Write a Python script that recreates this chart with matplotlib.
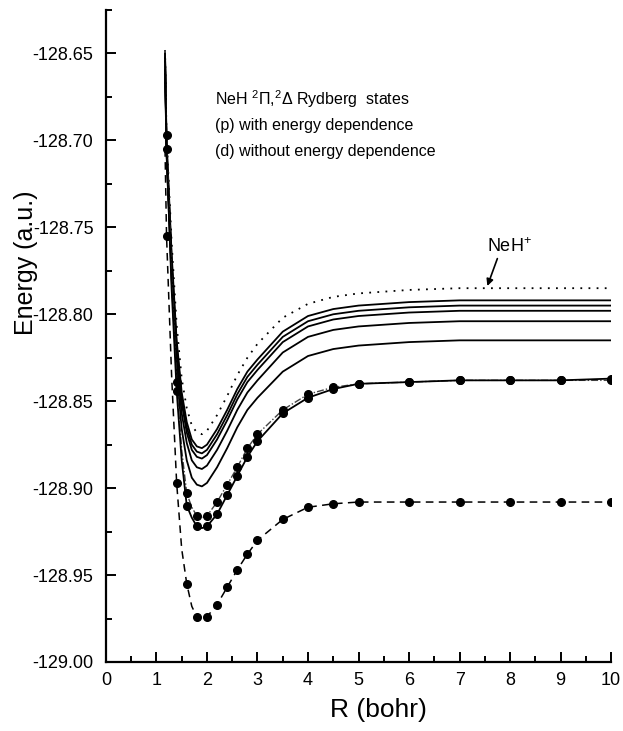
import matplotlib
matplotlib.use("Agg")
import matplotlib.pyplot as plt
from matplotlib.ticker import MultipleLocator, FormatStrFormatter

plt.rcParams['font.family'] = ['Liberation Sans', 'DejaVu Sans']
plt.rcParams['mathtext.fontset'] = 'custom'
plt.rcParams['mathtext.rm'] = 'Liberation Sans'
plt.rcParams['mathtext.it'] = 'Liberation Sans:italic'

# bond length grid (bohr)
R = [1.17, 1.2, 1.3, 1.4, 1.5, 1.6, 1.7, 1.8, 1.9, 2.0, 2.2, 2.4, 2.6, 2.8,
     3.0, 3.5, 4.0, 4.5, 5.0, 6.0, 7.0, 8.0, 9.0, 10.0]

# NeH+ ion (dotted)
ion = [-128.648, -128.697, -128.758, -128.806, -128.837, -128.854, -128.864,
       -128.868, -128.869, -128.867, -128.858, -128.847, -128.835, -128.825,
       -128.817, -128.802, -128.794, -128.790, -128.788, -128.786, -128.785,
       -128.785, -128.785, -128.785]

# Rydberg states (solid)
s1 = [-128.650, -128.700, -128.765, -128.815, -128.845, -128.862, -128.872,
      -128.876, -128.877, -128.875, -128.866, -128.855, -128.843, -128.833,
      -128.826, -128.810, -128.801, -128.797, -128.795, -128.793, -128.792,
      -128.792, -128.792, -128.792]
s2 = [-128.652, -128.702, -128.768, -128.818, -128.848, -128.865, -128.875,
      -128.879, -128.880, -128.878, -128.869, -128.858, -128.846, -128.836,
      -128.829, -128.813, -128.804, -128.800, -128.798, -128.796, -128.795,
      -128.795, -128.795, -128.795]
s3 = [-128.654, -128.704, -128.771, -128.821, -128.851, -128.868, -128.878,
      -128.882, -128.883, -128.881, -128.872, -128.861, -128.849, -128.839,
      -128.832, -128.816, -128.807, -128.803, -128.801, -128.799, -128.798,
      -128.798, -128.798, -128.798]
s4 = [-128.656, -128.706, -128.775, -128.826, -128.857, -128.874, -128.884,
      -128.888, -128.889, -128.887, -128.878, -128.867, -128.855, -128.845,
      -128.838, -128.822, -128.813, -128.809, -128.807, -128.805, -128.804,
      -128.804, -128.804, -128.804]
s5 = [-128.658, -128.708, -128.780, -128.833, -128.866, -128.884, -128.894,
      -128.898, -128.899, -128.897, -128.888, -128.877, -128.865, -128.855,
      -128.848, -128.833, -128.824, -128.820, -128.818, -128.816, -128.815,
      -128.815, -128.815, -128.815]

# state with points, two treatments
pa = [-128.648, -128.697, -128.780, -128.839, -128.878, -128.903, -128.911,
      -128.916, -128.917, -128.916, -128.908, -128.898, -128.888, -128.877,
      -128.869, -128.855, -128.846, -128.842, -128.840, -128.839, -128.838,
      -128.838, -128.838, -128.838]
pb = [-128.650, -128.705, -128.785, -128.844, -128.884, -128.910, -128.917,
      -128.922, -128.923, -128.922, -128.915, -128.904, -128.893, -128.882,
      -128.873, -128.857, -128.848, -128.843, -128.840, -128.839, -128.838,
      -128.838, -128.838, -128.837]

# lowest state (dashed with points)
low = [-128.705, -128.755, -128.835, -128.897, -128.935, -128.955, -128.968,
       -128.974, -128.976, -128.974, -128.967, -128.957, -128.947, -128.938,
       -128.930, -128.918, -128.911, -128.909, -128.908, -128.908, -128.908,
       -128.908, -128.908, -128.908]

# which grid points carry a marker
pts = [1, 3, 5, 7, 9, 10, 11, 12, 13, 14, 15, 16, 17, 18, 19, 20, 21, 22, 23]

fig, ax = plt.subplots(figsize=(6.23, 7.31), dpi=100)
fig.subplots_adjust(left=0.170, right=0.981, bottom=0.0944, top=0.9863)

ax.plot(R, ion, color='black', linestyle=(0, (1, 3.5)), lw=1.3)
for s in [s1, s2, s3, s4, s5]:
    ax.plot(R, s, color='black', lw=1.3)

ax.plot(R, pa, color='#444444', linestyle=(0, (5, 1.5, 1, 1.5)), lw=1.0,
        marker='o', markersize=5.5, markevery=pts, markerfacecolor='black',
        markeredgecolor='black')
ax.plot(R, pb, color='black', lw=1.3,
        marker='o', markersize=5.5, markevery=pts)
ax.plot(R, low, color='black', linestyle=(0, (5, 3.5)), lw=1.1,
        marker='o', markersize=5.5, markevery=pts)

ax.text(2.16, -128.676, r'NeH $^{2}$Π,$^{2}$Δ Rydberg  states', fontsize=11.5,
        va='center', ha='left')
ax.text(2.16, -128.6915, '(p) with energy dependence', fontsize=11.5,
        va='center', ha='left')
ax.text(2.16, -128.7065, '(d) without energy dependence', fontsize=11.5,
        va='center', ha='left')

ax.annotate(r'NeH$^{+}$', xy=(7.54, -128.7845), xytext=(7.99, -128.761),
            fontsize=13, ha='center', va='center',
            arrowprops=dict(arrowstyle='-|>', color='black', lw=1.2,
                            relpos=(0.25, 0.0), shrinkA=0, shrinkB=1,
                            mutation_scale=10))

ax.set_xlim(0, 10)
ax.set_ylim(-129.0, -128.625)
ax.xaxis.set_major_locator(MultipleLocator(1))
ax.xaxis.set_minor_locator(MultipleLocator(0.5))
ax.yaxis.set_major_locator(MultipleLocator(0.05))
ax.yaxis.set_minor_locator(MultipleLocator(0.025))
ax.yaxis.set_major_formatter(FormatStrFormatter('%.2f'))

ax.spines['top'].set_visible(False)
ax.spines['right'].set_visible(False)
ax.spines['left'].set_linewidth(1.6)
ax.spines['bottom'].set_linewidth(1.6)
ax.tick_params(which='both', direction='in', width=1.4, labelsize=13,
               top=False, right=False)
ax.tick_params(which='major', length=7)
ax.tick_params(which='minor', length=4)
ax.tick_params(axis='y', pad=9)
ax.tick_params(axis='x', pad=7)

ax.set_xlabel('R (bohr)', fontsize=19)
ax.set_ylabel('Energy (a.u.)', fontsize=18)
ax.xaxis.set_label_coords(0.539, -0.055)
ax.yaxis.set_label_coords(-0.135, 0.613)

plt.savefig('out.png', dpi=100)
